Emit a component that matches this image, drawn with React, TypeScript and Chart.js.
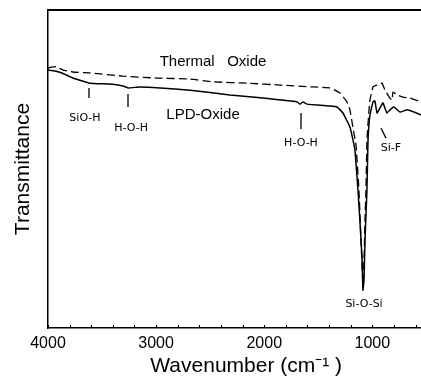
import React, { useEffect, useRef } from "react";
import { Chart, registerables } from "chart.js";

Chart.register(...registerables);

// LPD-Oxide (solid)
const waveLPD = [4000, 3935, 3871, 3769, 3612, 3427, 3306, 3260, 3149, 2964, 2687, 2317, 2011, 1697, 1669, 1641, 1604, 1392, 1327, 1272, 1207, 1179, 1161, 1133, 1114, 1096, 1087, 1077, 1068, 1050, 1040, 1022, 994, 976, 957, 929, 902, 865, 828, 800, 744, 680, 615, 550];
const transLPD = [81.1, 80.8, 80.2, 78.6, 77.0, 76.7, 76.1, 75.5, 75.8, 75.5, 74.8, 73.3, 72.3, 71.1, 70.4, 71.1, 70.4, 69.8, 69.5, 67.6, 63.2, 59.1, 56.0, 43.4, 33.0, 22.3, 11.9, 15.1, 27.7, 43.4, 59.1, 67.0, 71.1, 71.4, 67.6, 69.2, 70.8, 67.6, 68.9, 69.5, 67.9, 68.6, 67.9, 67.0];

// Thermal Oxide (dashed)
const waveThermal = [4000, 3926, 3861, 3769, 3612, 3306, 2992, 2687, 2474, 2159, 1854, 1549, 1392, 1299, 1235, 1207, 1179, 1151, 1124, 1105, 1087, 1077, 1068, 1059, 1050, 1031, 1022, 994, 957, 911, 883, 837, 818, 809, 772, 717, 652, 550];
const transThermal = [81.8, 82.2, 81.1, 80.5, 80.2, 79.2, 78.6, 78.3, 77.4, 77.0, 76.4, 75.8, 75.5, 73.9, 71.1, 68.6, 62.9, 57.5, 43.4, 27.7, 13.8, 21.4, 34.0, 43.4, 59.1, 68.6, 71.7, 75.8, 76.4, 77.0, 74.8, 72.3, 71.7, 74.2, 73.3, 72.6, 72.3, 71.1];

const xTickLabels = [4000, 3000, 2000, 1000];
const minorTicks = [4000, 3800, 3600, 3400, 3200, 3000, 2800, 2600, 2400, 2200, 2000, 1800, 1600, 1400, 1200, 1000, 800, 600];

// annotation labels: text, wavenumber, transmittance
const seriesLabels = ["Thermal   Oxide", "LPD-Oxide"];
const seriesLabelWave = [2474, 2566];
const seriesLabelT = [83.6, 67.0];

const bandLabels = ["SiO-H", "H-O-H", "H-O-H", "Si-F", "Si-O-Si"];
const bandLabelWave = [3658, 3232, 1660, 828, 1077];
const bandLabelT = [66.0, 62.9, 58.2, 56.6, 7.5];
// marker lines: from (w1,t1) to (w2,t2)
const markW1 = [3621, 3260, 1660, 920];
const markT1 = [75.5, 73.6, 67.6, 62.9];
const markW2 = [3621, 3260, 1660, 874];
const markT2 = [72.3, 69.5, 62.6, 59.7];

const annotationPlugin = {
  id: "annots",
  afterDraw(chart: any) {
    const { ctx, chartArea, scales } = chart;
    const x = scales.x;
    const y = scales.y;
    ctx.save();
    // top border
    ctx.strokeStyle = "#000";
    ctx.lineWidth = 2;
    ctx.beginPath();
    ctx.moveTo(chartArea.left, chartArea.top);
    ctx.lineTo(chartArea.right, chartArea.top);
    ctx.stroke();
    // inward minor ticks
    ctx.lineWidth = 1;
    minorTicks.forEach((v) => {
      const px = Math.round(x.getPixelForValue(v)) + 0.5;
      ctx.beginPath();
      ctx.moveTo(px, chartArea.bottom);
      ctx.lineTo(px, chartArea.bottom - 3);
      ctx.stroke();
    });
    // series labels
    ctx.fillStyle = "#000";
    ctx.textAlign = "center";
    ctx.textBaseline = "middle";
    ctx.font = "15px 'Liberation Sans', Arial, sans-serif";
    seriesLabels.forEach((t, i) => {
      ctx.fillText(t, x.getPixelForValue(seriesLabelWave[i]), y.getPixelForValue(seriesLabelT[i]));
    });
    ctx.font = "11px 'DejaVu Sans', sans-serif";
    bandLabels.forEach((t, i) => {
      ctx.fillText(t, x.getPixelForValue(bandLabelWave[i]), y.getPixelForValue(bandLabelT[i]));
    });
    ctx.lineWidth = 1.3;
    markW1.forEach((w, i) => {
      ctx.beginPath();
      ctx.moveTo(x.getPixelForValue(w), y.getPixelForValue(markT1[i]));
      ctx.lineTo(x.getPixelForValue(markW2[i]), y.getPixelForValue(markT2[i]));
      ctx.stroke();
    });
    ctx.restore();
  },
};

export default function App() {
  const ref = useRef<HTMLCanvasElement | null>(null);
  useEffect(() => {
    if (!ref.current) return;
    const chart = new Chart(ref.current, {
      type: "line",
      data: {
        datasets: [
          {
            label: "Thermal Oxide",
            data: waveThermal.map((w, i) => ({ x: w, y: transThermal[i] })),
            borderColor: "#000",
            borderWidth: 1.3,
            borderDash: [8, 4],
            pointRadius: 0,
            tension: 0.1,
          },
          {
            label: "LPD-Oxide",
            data: waveLPD.map((w, i) => ({ x: w, y: transLPD[i] })),
            borderColor: "#000",
            borderWidth: 1.5,
            pointRadius: 0,
            tension: 0.1,
          },
        ],
      },
      options: {
        responsive: false,
        animation: false,
        devicePixelRatio: 1,
        layout: { padding: { top: 10, right: 0, left: 0, bottom: 0 } },
        plugins: { legend: { display: false }, tooltip: { enabled: false } },
        scales: {
          x: {
            type: "linear",
            reverse: true,
            min: 550,
            max: 4000,
            afterFit: (s: any) => {
              s.height = 53;
            },
            afterBuildTicks: (s: any) => {
              s.ticks = xTickLabels.map((v) => ({ value: v }));
            },
            grid: { display: false, drawTicks: false },
            border: { display: true, color: "#000", width: 1.5 },
            ticks: {
              color: "#000",
              padding: 6,
              maxRotation: 0,
              autoSkip: false,
              font: { family: "'Liberation Sans', Arial, sans-serif", size: 16 },
              callback: (v: any) => String(v),
            },
            title: {
              display: true,
              text: "\u00A0\u00A0\u00A0\u00A0Wavenumber (cm\u207B\u00B9 )",
              color: "#000",
              font: { family: "'Liberation Sans', Arial, sans-serif", size: 21 },
              padding: { top: 0, bottom: 2 },
            },
          },
          y: {
            type: "linear",
            min: 0,
            max: 100,
            afterFit: (s: any) => {
              s.width = 48;
            },
            grid: { display: false, drawTicks: false },
            border: { display: true, color: "#000", width: 1.5 },
            ticks: { display: false },
            title: {
              display: true,
              text: "Transmittance",
              color: "#000",
              font: { family: "'Liberation Sans', Arial, sans-serif", size: 21 },
              padding: { top: 11, bottom: 0 },
            },
          },
        },
      },
      plugins: [annotationPlugin],
    });
    return () => chart.destroy();
  }, []);
  return (
    <div style={{ position: "fixed", left: 0, top: 0, width: 421, height: 381, background: "#fff" }}>
      <canvas ref={ref} width={421} height={381} />
    </div>
  );
}
